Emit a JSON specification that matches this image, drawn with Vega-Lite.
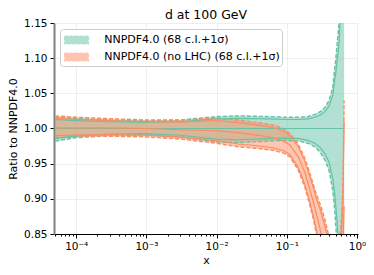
{
  "$schema": "https://vega.github.io/schema/vega-lite/v6.json",
  "autosize": {"type": "none"},
  "width": 304,
  "height": 211,
  "padding": {"left": 54, "top": 23, "right": 16, "bottom": 41},
  "background": "white",
  "title": {"text": "d at 100 GeV", "fontSize": 12.5, "fontWeight": "normal", "font": "DejaVu Sans", "color": "black", "offset": -3, "anchor": "middle"},
  "config": {
    "font": "DejaVu Sans",
    "view": {"stroke": null},
    "axis": {"labelFont": "DejaVu Sans", "titleFont": "DejaVu Sans", "labelColor": "black", "titleColor": "black", "titleFontWeight": "normal", "labelFontSize": 10.5, "titleFontSize": 11, "tickColor": "black", "gridColor": "#ebebeb", "gridWidth": 0.8, "labelOverlap": false},
    "axisY": {"labelOverlap": false, "labelFlush": false}
  },
  "data": {"values": [
    {"pdf": "NNPDF4.0 (68 c.l.+1σ)", "x": 0.00005, "lo": 0.982, "hi": 1.016, "lo1": 0.9856, "hi1": 1.0128, "c": 1.0},
    {"pdf": "NNPDF4.0 (68 c.l.+1σ)", "x": 0.0001, "lo": 0.987, "hi": 1.014, "lo1": 0.9896, "hi1": 1.0112, "c": 1.0},
    {"pdf": "NNPDF4.0 (68 c.l.+1σ)", "x": 0.0003, "lo": 0.990, "hi": 1.012, "lo1": 0.992, "hi1": 1.0096, "c": 1.0},
    {"pdf": "NNPDF4.0 (68 c.l.+1σ)", "x": 0.001, "lo": 0.991, "hi": 1.011, "lo1": 0.9928, "hi1": 1.0088, "c": 1.0},
    {"pdf": "NNPDF4.0 (68 c.l.+1σ)", "x": 0.003, "lo": 0.988, "hi": 1.012, "lo1": 0.9904, "hi1": 1.0096, "c": 1.0},
    {"pdf": "NNPDF4.0 (68 c.l.+1σ)", "x": 0.01, "lo": 0.981, "hi": 1.017, "lo1": 0.9848, "hi1": 1.0136, "c": 1.0},
    {"pdf": "NNPDF4.0 (68 c.l.+1σ)", "x": 0.02, "lo": 0.980, "hi": 1.018, "lo1": 0.984, "hi1": 1.0144, "c": 1.0},
    {"pdf": "NNPDF4.0 (68 c.l.+1σ)", "x": 0.05, "lo": 0.982, "hi": 1.017, "lo1": 0.9856, "hi1": 1.0136, "c": 1.0},
    {"pdf": "NNPDF4.0 (68 c.l.+1σ)", "x": 0.1, "lo": 0.983, "hi": 1.016, "lo1": 0.9864, "hi1": 1.0128, "c": 1.0},
    {"pdf": "NNPDF4.0 (68 c.l.+1σ)", "x": 0.15, "lo": 0.982, "hi": 1.016, "lo1": 0.9856, "hi1": 1.0128, "c": 1.0},
    {"pdf": "NNPDF4.0 (68 c.l.+1σ)", "x": 0.2, "lo": 0.979, "hi": 1.017, "lo1": 0.9832, "hi1": 1.0136, "c": 1.0},
    {"pdf": "NNPDF4.0 (68 c.l.+1σ)", "x": 0.25, "lo": 0.974, "hi": 1.020, "lo1": 0.9792, "hi1": 1.016, "c": 1.0},
    {"pdf": "NNPDF4.0 (68 c.l.+1σ)", "x": 0.3, "lo": 0.966, "hi": 1.024, "lo1": 0.9728, "hi1": 1.0192, "c": 1.0},
    {"pdf": "NNPDF4.0 (68 c.l.+1σ)", "x": 0.35, "lo": 0.955, "hi": 1.030, "lo1": 0.964, "hi1": 1.024, "c": 1.0},
    {"pdf": "NNPDF4.0 (68 c.l.+1σ)", "x": 0.4, "lo": 0.940, "hi": 1.040, "lo1": 0.952, "hi1": 1.032, "c": 1.0},
    {"pdf": "NNPDF4.0 (68 c.l.+1σ)", "x": 0.45, "lo": 0.912, "hi": 1.058, "lo1": 0.9296, "hi1": 1.0464, "c": 1.0},
    {"pdf": "NNPDF4.0 (68 c.l.+1σ)", "x": 0.48, "lo": 0.885, "hi": 1.085, "lo1": 0.908, "hi1": 1.068, "c": 1.0},
    {"pdf": "NNPDF4.0 (68 c.l.+1σ)", "x": 0.5, "lo": 0.860, "hi": 1.10, "lo1": 0.888, "hi1": 1.08, "c": 1.0},
    {"pdf": "NNPDF4.0 (68 c.l.+1σ)", "x": 0.52, "lo": 0.835, "hi": 1.12, "lo1": 0.868, "hi1": 1.096, "c": 1.0},
    {"pdf": "NNPDF4.0 (68 c.l.+1σ)", "x": 0.555, "lo": 0.78, "hi": 1.15, "lo1": 0.824, "hi1": 1.12, "c": 1.0},
    {"pdf": "NNPDF4.0 (68 c.l.+1σ)", "x": 0.6, "lo": 0.70, "hi": 1.25, "lo1": 0.76, "hi1": 1.20, "c": 1.0},
    {"pdf": "NNPDF4.0 (68 c.l.+1σ)", "x": 0.655, "lo": 0.60, "hi": 1.35, "lo1": 0.68, "hi1": 1.28, "c": 1.0},
    {"pdf": "NNPDF4.0 (no LHC) (68 c.l.+1σ)", "x": 0.00005, "lo": 0.987, "hi": 1.018, "lo1": 0.9898, "hi1": 1.0146, "c": 1.001},
    {"pdf": "NNPDF4.0 (no LHC) (68 c.l.+1σ)", "x": 0.0001, "lo": 0.988, "hi": 1.016, "lo1": 0.9906, "hi1": 1.013, "c": 1.001},
    {"pdf": "NNPDF4.0 (no LHC) (68 c.l.+1σ)", "x": 0.0003, "lo": 0.989, "hi": 1.014, "lo1": 0.9914, "hi1": 1.0114, "c": 1.001},
    {"pdf": "NNPDF4.0 (no LHC) (68 c.l.+1σ)", "x": 0.001, "lo": 0.988, "hi": 1.012, "lo1": 0.9904, "hi1": 1.0096, "c": 1.0},
    {"pdf": "NNPDF4.0 (no LHC) (68 c.l.+1σ)", "x": 0.003, "lo": 0.985, "hi": 1.012, "lo1": 0.9876, "hi1": 1.0092, "c": 0.998},
    {"pdf": "NNPDF4.0 (no LHC) (68 c.l.+1σ)", "x": 0.01, "lo": 0.979, "hi": 1.015, "lo1": 0.9826, "hi1": 1.0114, "c": 0.997},
    {"pdf": "NNPDF4.0 (no LHC) (68 c.l.+1σ)", "x": 0.02, "lo": 0.974, "hi": 1.012, "lo1": 0.978, "hi1": 1.0084, "c": 0.994},
    {"pdf": "NNPDF4.0 (no LHC) (68 c.l.+1σ)", "x": 0.035, "lo": 0.972, "hi": 1.009, "lo1": 0.9758, "hi1": 1.0054, "c": 0.991},
    {"pdf": "NNPDF4.0 (no LHC) (68 c.l.+1σ)", "x": 0.064, "lo": 0.969, "hi": 1.005, "lo1": 0.9726, "hi1": 1.0014, "c": 0.987},
    {"pdf": "NNPDF4.0 (no LHC) (68 c.l.+1σ)", "x": 0.09, "lo": 0.965, "hi": 1.000, "lo1": 0.9684, "hi1": 0.9964, "c": 0.982},
    {"pdf": "NNPDF4.0 (no LHC) (68 c.l.+1σ)", "x": 0.11, "lo": 0.960, "hi": 0.993, "lo1": 0.9634, "hi1": 0.9898, "c": 0.977},
    {"pdf": "NNPDF4.0 (no LHC) (68 c.l.+1σ)", "x": 0.145, "lo": 0.941, "hi": 0.978, "lo1": 0.9448, "hi1": 0.9744, "c": 0.960},
    {"pdf": "NNPDF4.0 (no LHC) (68 c.l.+1σ)", "x": 0.18, "lo": 0.917, "hi": 0.958, "lo1": 0.9212, "hi1": 0.954, "c": 0.938},
    {"pdf": "NNPDF4.0 (no LHC) (68 c.l.+1σ)", "x": 0.21, "lo": 0.893, "hi": 0.938, "lo1": 0.8974, "hi1": 0.9334, "c": 0.915},
    {"pdf": "NNPDF4.0 (no LHC) (68 c.l.+1σ)", "x": 0.24, "lo": 0.870, "hi": 0.920, "lo1": 0.875, "hi1": 0.915, "c": 0.895},
    {"pdf": "NNPDF4.0 (no LHC) (68 c.l.+1σ)", "x": 0.266, "lo": 0.848, "hi": 0.905, "lo1": 0.8538, "hi1": 0.8994, "c": 0.877},
    {"pdf": "NNPDF4.0 (no LHC) (68 c.l.+1σ)", "x": 0.3, "lo": 0.82, "hi": 0.892, "lo1": 0.8272, "hi1": 0.8848, "c": 0.856},
    {"pdf": "NNPDF4.0 (no LHC) (68 c.l.+1σ)", "x": 0.35, "lo": 0.78, "hi": 0.870, "lo1": 0.789, "hi1": 0.861, "c": 0.825},
    {"pdf": "NNPDF4.0 (no LHC) (68 c.l.+1σ)", "x": 0.4, "lo": 0.74, "hi": 0.846, "lo1": 0.751, "hi1": 0.8358, "c": 0.795},
    {"pdf": "NNPDF4.0 (no LHC) (68 c.l.+1σ)", "x": 0.45, "lo": 0.70, "hi": 0.825, "lo1": 0.712, "hi1": 0.812, "c": 0.76},
    {"pdf": "NNPDF4.0 (no LHC) (68 c.l.+1σ)", "x": 0.5, "lo": 0.68, "hi": 0.815, "lo1": 0.693, "hi1": 0.801, "c": 0.745},
    {"pdf": "NNPDF4.0 (no LHC) (68 c.l.+1σ)", "x": 0.55, "lo": 0.68, "hi": 0.83, "lo1": 0.695, "hi1": 0.815, "c": 0.755},
    {"pdf": "NNPDF4.0 (no LHC) (68 c.l.+1σ)", "x": 0.6, "lo": 0.70, "hi": 0.87, "lo1": 0.717, "hi1": 0.853, "c": 0.785},
    {"pdf": "NNPDF4.0 (no LHC) (68 c.l.+1σ)", "x": 0.63, "lo": 0.72, "hi": 0.92, "lo1": 0.74, "hi1": 0.90, "c": 0.82},
    {"pdf": "NNPDF4.0 (no LHC) (68 c.l.+1σ)", "x": 0.655, "lo": 0.74, "hi": 1.04, "lo1": 0.77, "hi1": 1.01, "c": 0.89}
  ]},
  "layer": [
    {
      "mark": {"type": "area", "opacity": 0.5, "clip": true},
      "encoding": {
        "x": {"field": "x", "type": "quantitative",
          "scale": {"type": "log", "domain": [0.0000482, 1.033], "nice": false},
          "axis": {
            "title": "x", "titlePadding": 3,
            "values": [0.00005,0.00006,0.00007,0.00008,0.00009,0.0001,0.0002,0.0003,0.0004,0.0005,0.0006,0.0007,0.0008,0.0009,0.001,0.002,0.003,0.004,0.005,0.006,0.007,0.008,0.009,0.01,0.02,0.03,0.04,0.05,0.06,0.07,0.08,0.09,0.1,0.2,0.3,0.4,0.5,0.6,0.7,0.8,0.9,1],
            "labelExpr": "abs(log(datum.value)/LN10 - round(log(datum.value)/LN10)) > 0.001 ? '' : datum.value < 0.0005 ? '10⁻⁴' : datum.value < 0.005 ? '10⁻³' : datum.value < 0.05 ? '10⁻²' : datum.value < 0.5 ? '10⁻¹' : '10⁰'",
            "labelOverlap": false, "labelFlush": false, "labelPadding": 3,
            "tickSize": {"condition": {"test": "abs(log(datum.value)/LN10 - round(log(datum.value)/LN10)) < 0.001", "value": 4}, "value": 2},
            "gridOpacity": {"condition": {"test": "abs(log(datum.value)/LN10 - round(log(datum.value)/LN10)) < 0.001", "value": 1}, "value": 0},
            "domainColor": "black", "domainWidth": 1
          }
        },
        "y": {"field": "lo", "type": "quantitative",
          "scale": {"domain": [0.85, 1.15], "nice": false, "zero": false},
          "axis": {"title": "Ratio to NNPDF4.0", "values": [0.85, 0.9, 0.95, 1.0, 1.05, 1.1, 1.15], "labelExpr": "format(datum.value, '.2f')", "labelOverlap": false, "labelFlush": false, "tickSize": 4, "labelPadding": 3, "titlePadding": 5, "domainColor": "#808080", "domainWidth": 2}
        },
        "y2": {"field": "hi"},
        "color": {"field": "pdf", "type": "nominal",
          "scale": {"domain": ["NNPDF4.0 (68 c.l.+1σ)", "NNPDF4.0 (no LHC) (68 c.l.+1σ)"], "range": ["#66c2a5", "#fc8d62"]},
          "legend": {"title": null, "orient": "top-left", "offset": 6, "padding": 2, "fillColor": "rgba(255,255,255,0.85)", "strokeColor": "#cccccc", "cornerRadius": 3,
            "labelFontSize": 11, "labelFont": "DejaVu Sans", "labelColor": "black", "labelLimit": 300, "rowPadding": 1, "labelOffset": 18.7,
            "symbolType": "M-1.5,-0.5H1.5V0.5H-1.5Z", "symbolSize": 256, "symbolOffset": 5.5, "symbolStrokeWidth": 1.2, "symbolDash": [3, 2],
            "encode": {"symbols": {"update": {"fillOpacity": {"value": 0.5}, "stroke": {"scale": "color", "field": "value"}, "strokeDash": {"value": [3, 2]}, "strokeWidth": {"value": 1.2}, "opacity": {"value": 1}}}}
          }
        }
      }
    },
    {
      "transform": [{"fold": ["lo", "hi"], "as": ["bound", "val"]}],
      "mark": {"type": "line", "strokeDash": [4, 2], "strokeWidth": 1.4, "clip": true},
      "encoding": {
        "x": {"field": "x", "type": "quantitative"},
        "y": {"field": "val", "type": "quantitative",
          "axis": {"title": "Ratio to NNPDF4.0", "values": [0.85, 0.9, 0.95, 1.0, 1.05, 1.1, 1.15], "labelExpr": "format(datum.value, '.2f')", "labelOverlap": false, "labelFlush": false, "tickSize": 4, "labelPadding": 3, "titlePadding": 5, "domainColor": "#808080", "domainWidth": 2}},
        "color": {"field": "pdf", "type": "nominal", "legend": null},
        "detail": {"field": "bound"}
      }
    },
    {
      "transform": [{"fold": ["lo1", "hi1", "c"], "as": ["bound", "val"]}],
      "mark": {"type": "line", "strokeWidth": 1.2, "clip": true},
      "encoding": {
        "x": {"field": "x", "type": "quantitative"},
        "y": {"field": "val", "type": "quantitative",
          "axis": {"title": "Ratio to NNPDF4.0", "values": [0.85, 0.9, 0.95, 1.0, 1.05, 1.1, 1.15], "labelExpr": "format(datum.value, '.2f')", "labelOverlap": false, "labelFlush": false, "tickSize": 4, "labelPadding": 3, "titlePadding": 5, "domainColor": "#808080", "domainWidth": 2}},
        "color": {"field": "pdf", "type": "nominal", "legend": null},
        "detail": {"field": "bound"}
      }
    }
  ]
}
